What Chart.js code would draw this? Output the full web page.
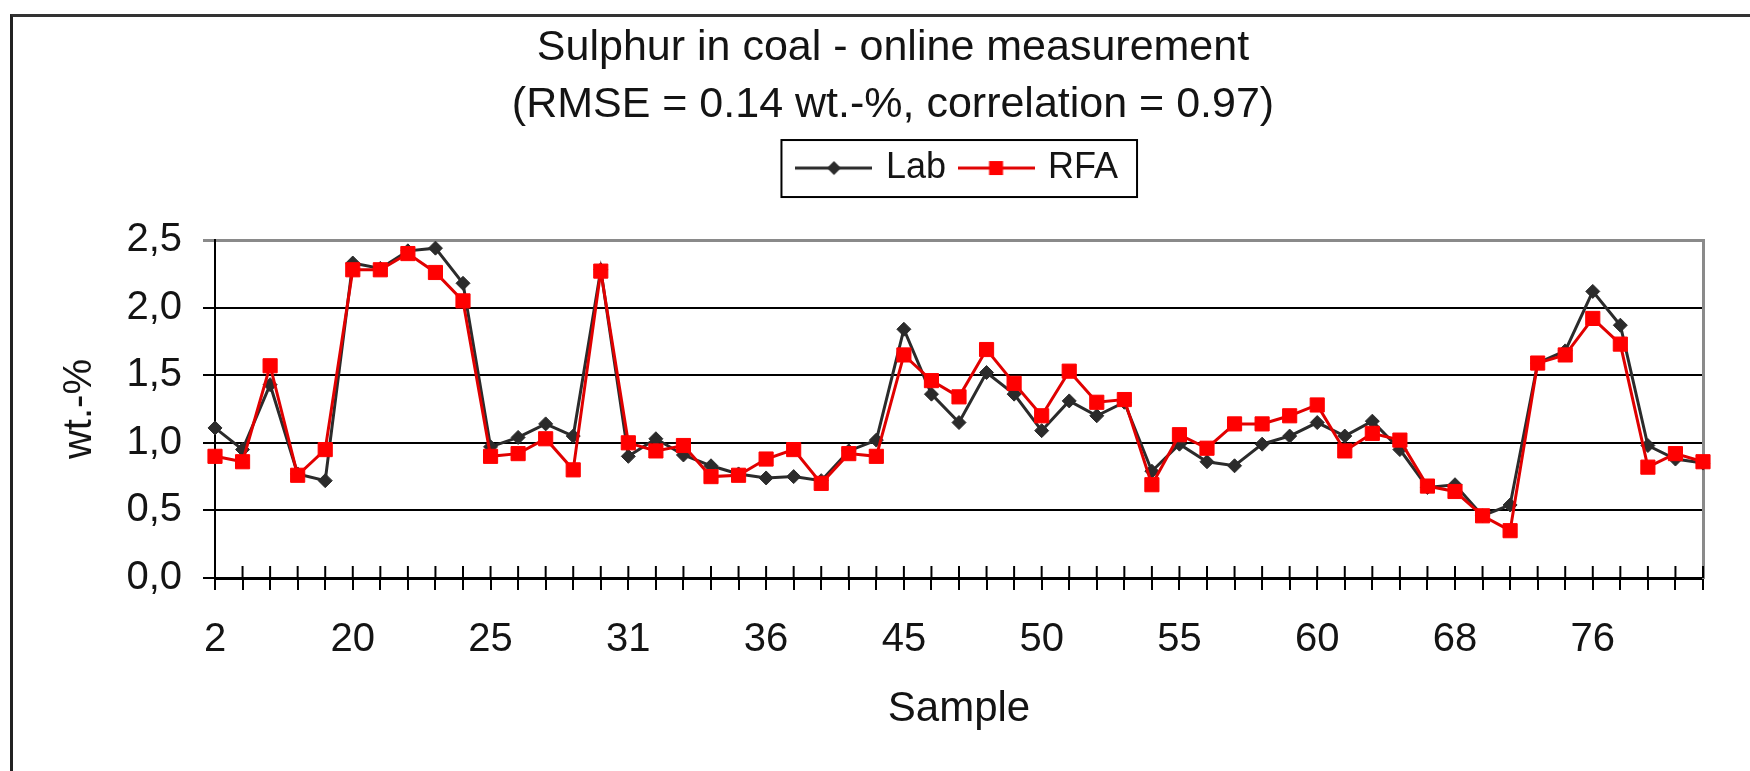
<!DOCTYPE html>
<html>
<head>
<meta charset="utf-8">
<title>Sulphur in coal - online measurement</title>
<script src="https://cdn.jsdelivr.net/npm/chart.js@4.4.1/dist/chart.umd.min.js"></script>
<style>
  html, body { margin: 0; padding: 0; background: #fff; }
  #wrap { position: relative; width: 1750px; height: 771px; overflow: hidden; }
  #frame { position: absolute; left: 10px; top: 14px; width: 1800px; height: 800px; border-top: 3px solid #333; border-left: 3px solid #222; }
  #dataChart { position: absolute; left: 0; top: 0; }
</style>
</head>
<body>
<div id="wrap">
  <div id="frame"></div>
  <canvas id="dataChart" width="1750" height="771"></canvas>
</div>
<script>
// sample numbers on the x axis (only every 5th one is labelled in the figure)
const samples = [2, 4, 7, 12, 16, 20, 21, 22, 23, 24, 25, 26, 27, 28, 29, 31, 32, 33, 34, 35,
    36, 38, 40, 42, 43, 45, 46, 47, 48, 49, 50, 51, 52, 53, 54, 55, 56, 57, 58, 59,
    60, 62, 64, 65, 67, 68, 70, 72, 73, 74, 76, 77, 78, 79, 80];

// sulphur, wt.-%
const labValues = [1.11, 0.95, 1.43, 0.77, 0.72, 2.33, 2.29, 2.42, 2.44, 2.18,
    0.97, 1.04, 1.14, 1.05, 2.28, 0.90, 1.03, 0.91, 0.83, 0.77,
    0.74, 0.75, 0.72, 0.94, 1.02, 1.84, 1.36, 1.15, 1.52, 1.36,
    1.09, 1.31, 1.20, 1.30, 0.79, 0.99, 0.86, 0.83, 0.99, 1.05,
    1.15, 1.05, 1.16, 0.95, 0.67, 0.69, 0.46, 0.54, 1.59, 1.68,
    2.12, 1.87, 0.98, 0.88, 0.85];

const rfaValues = [0.90, 0.86, 1.57, 0.76, 0.95, 2.28, 2.28, 2.40, 2.26, 2.05,
    0.90, 0.92, 1.03, 0.80, 2.27, 1.00, 0.94, 0.98, 0.75, 0.76,
    0.88, 0.95, 0.70, 0.92, 0.90, 1.65, 1.46, 1.34, 1.69, 1.44,
    1.20, 1.53, 1.30, 1.32, 0.69, 1.06, 0.96, 1.14, 1.14, 1.20,
    1.28, 0.94, 1.07, 1.02, 0.68, 0.64, 0.46, 0.35, 1.59, 1.65,
    1.92, 1.73, 0.82, 0.92, 0.86];

const yTicks = [0, 0.5, 1.0, 1.5, 2.0, 2.5];

const FONT = '"Liberation Sans", Arial, sans-serif';
const TEXT = '#141414';
const LAB_COLOR = '#2b2b2b';
const RFA_COLOR = '#ff0000';
const RFA_LINE = '#e00000';

// legend symbol: short line with the marker in the middle
function legendIcon(color, lineColor, marker) {
    const c = document.createElement('canvas');
    c.width = 77; c.height = 22;
    const g = c.getContext('2d');
    g.strokeStyle = lineColor;
    g.lineWidth = 3;
    g.beginPath(); g.moveTo(0, 11); g.lineTo(77, 11); g.stroke();
    g.fillStyle = color;
    if (marker === 'diamond') {
        g.beginPath(); g.moveTo(38.5, 4); g.lineTo(45.5, 11); g.lineTo(38.5, 18); g.lineTo(31.5, 11); g.closePath(); g.fill();
    } else {
        g.fillRect(31.5, 4, 14, 14);
    }
    return c;
}
const icons = [legendIcon(LAB_COLOR, LAB_COLOR, 'diamond'), legendIcon(RFA_COLOR, RFA_LINE, 'square')];
const ICON_OVERHANG = (77 - 68) / 2;

// tick marks of the category axis cross the axis line
const innerTicks = {
    id: 'innerTicks',
    beforeDatasetsDraw(chart) {
        const {ctx, chartArea, scales: {x}} = chart;
        ctx.save();
        ctx.strokeStyle = '#000';
        ctx.lineWidth = 2;
        x.ticks.forEach((t, i) => {
            const px = x.getPixelForTick(i);
            ctx.beginPath();
            ctx.moveTo(px, chartArea.bottom);
            ctx.lineTo(px, chartArea.bottom - 12);
            ctx.stroke();
        });
        ctx.restore();
    }
};

// frame around the legend
const legendFrame = {
    id: 'legendFrame',
    afterDraw(chart) {
        const boxes = chart.legend && chart.legend.legendHitBoxes;
        if (!boxes || !boxes.length) return;
        const left = Math.min(...boxes.map(b => b.left)) - ICON_OVERHANG - 14;
        const right = Math.max(...boxes.map(b => b.left + b.width)) + 19;
        const top = boxes[0].top - 10;
        const bottom = boxes[0].top + boxes[0].height + 11;
        const ctx = chart.ctx;
        ctx.save();
        ctx.strokeStyle = '#000';
        ctx.lineWidth = 2;
        ctx.strokeRect(left, top, right - left, bottom - top);
        ctx.restore();
    }
};

const ctx = document.getElementById('dataChart').getContext('2d');

new Chart(ctx, {
    type: 'line',
    data: {
        labels: samples,
        datasets: [{
            label: 'Lab',
            data: labValues,
            borderColor: LAB_COLOR,
            backgroundColor: LAB_COLOR,
            borderWidth: 3,
            pointStyle: 'rectRot',
            pointRadius: 7,
            pointBorderWidth: 1,
            pointBackgroundColor: LAB_COLOR,
            pointBorderColor: LAB_COLOR,
            tension: 0,
            clip: false,
            order: 1
        }, {
            label: 'RFA',
            data: rfaValues,
            borderColor: RFA_LINE,
            backgroundColor: RFA_COLOR,
            borderWidth: 3,
            pointStyle: 'rect',
            pointRadius: 10,
            pointBorderWidth: 1,
            pointBackgroundColor: RFA_COLOR,
            pointBorderColor: RFA_COLOR,
            tension: 0,
            clip: false,
            order: 0
        }]
    },
    options: {
        responsive: false,
        animation: false,
        devicePixelRatio: 1,
        layout: { padding: { left: 36, right: 0, top: 0, bottom: 20 } },
        plugins: {
            title: {
                display: true,
                text: ['Sulphur in coal - online measurement', '(RMSE = 0.14 wt.-%, correlation = 0.97)'],
                color: TEXT,
                font: { family: FONT, size: 43, weight: 'normal', lineHeight: 1.326 },
                padding: { top: 20, bottom: 0 }
            },
            subtitle: {
                // empty spacer between legend and plot area
                display: true,
                text: '',
                weight: 500,
                font: { size: 10, lineHeight: 1 },
                padding: { top: 34, bottom: 0 }
            },
            legend: {
                position: 'top',
                fullSize: false,
                labels: {
                    usePointStyle: true,
                    pointStyleWidth: 68,
                    boxHeight: 36,
                    padding: 16,
                    color: TEXT,
                    font: { family: FONT, size: 36 },
                    sort: (a, b) => a.datasetIndex - b.datasetIndex,
                    generateLabels: chart => {
                        const items = Chart.defaults.plugins.legend.labels.generateLabels(chart);
                        items.forEach(it => { it.pointStyle = icons[it.datasetIndex]; });
                        return items;
                    }
                }
            },
            tooltip: { enabled: false }
        },
        scales: {
            x: {
                type: 'category',
                offset: false,
                grid: { drawOnChartArea: false, drawTicks: true, tickLength: 12, color: '#000', lineWidth: 2 },
                border: { color: '#000', width: 3 },
                ticks: {
                    autoSkip: false,
                    maxRotation: 0,
                    padding: 26,
                    color: TEXT,
                    font: { family: FONT, size: 40 },
                    callback: (v, i) => i % 5 === 0 ? String(samples[i]) : ''
                },
                title: {
                    display: true,
                    text: 'Sample',
                    color: TEXT,
                    font: { family: FONT, size: 42 },
                    padding: { top: 0, bottom: 16 }
                },
                afterFit: s => { s.height = 173; }
            },
            y: {
                type: 'linear',
                min: yTicks[0],
                max: yTicks[yTicks.length - 1],
                afterBuildTicks: s => { s.ticks = yTicks.map(v => ({ value: v })); },
                grid: {
                    color: c => (c.tick && c.tick.value === 2.5) ? '#8a8a8a' : '#000',
                    lineWidth: c => (c.tick && c.tick.value === 2.5) ? 3 : 2,
                    tickLength: 12,
                    drawTicks: true
                },
                border: { color: '#000', width: 2 },
                ticks: {
                    padding: 21,
                    color: TEXT,
                    font: { family: FONT, size: 40 },
                    callback: v => v.toFixed(1).replace('.', ',')
                },
                title: {
                    display: true,
                    text: 'wt.-%',
                    color: TEXT,
                    font: { family: FONT, size: 40 },
                    padding: { top: 20, bottom: 0 }
                },
                afterFit: s => { s.width = 179; }
            },
            yRight: {
                type: 'linear',
                position: 'right',
                min: 0,
                max: 2.5,
                grid: { display: false },
                ticks: { display: false },
                border: { display: true, color: '#8a8a8a', width: 3 },
                afterFit: s => { s.width = 47; }
            }
        }
    },
    plugins: [innerTicks, legendFrame]
});
</script>
</body>
</html>
